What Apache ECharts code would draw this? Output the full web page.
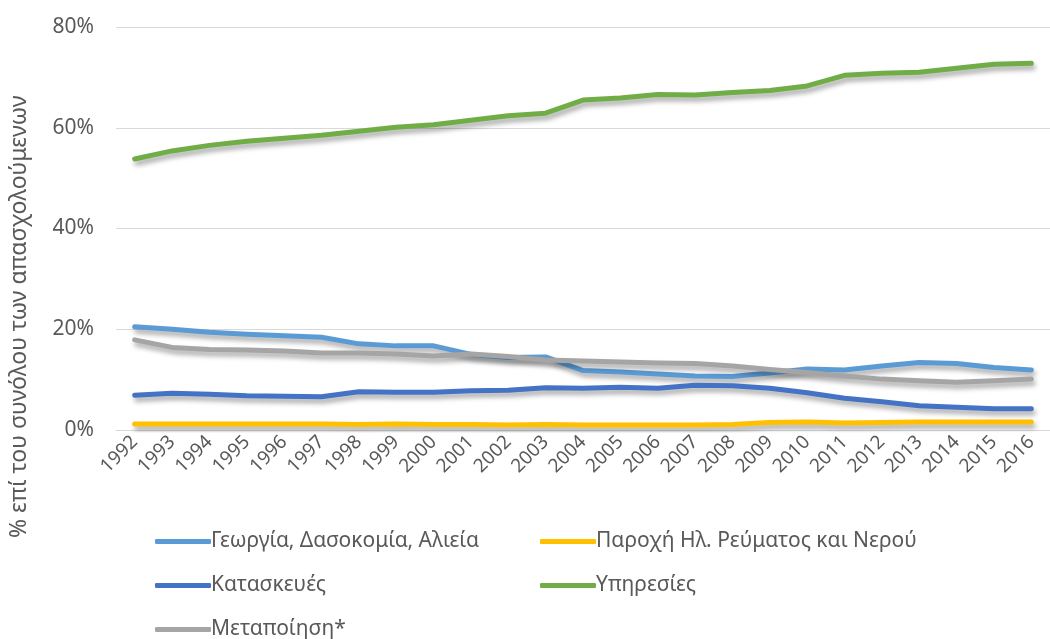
<!DOCTYPE html>
<html>
<head>
<meta charset="utf-8">
<script src="https://cdn.jsdelivr.net/npm/echarts@6/dist/echarts.min.js"></script>
<style>
    html, body { margin: 0; padding: 0; background: #fff; }
    #chart { width: 1050px; height: 639px; }
</style>
</head>
<body>
<div id="chart"></div>
<script>
const years = ['1992', '1993', '1994', '1995', '1996', '1997', '1998', '1999', '2000', '2001', '2002', '2003', '2004',
    '2005', '2006', '2007', '2008', '2009', '2010', '2011', '2012', '2013', '2014', '2015', '2016']

// % επί του συνόλου των απασχολούμενων
const agriculture = [20.5, 20.0, 19.4, 19.0, 18.7, 18.4, 17.1, 16.7, 16.7, 15.0, 14.4, 14.5, 11.8,
    11.5, 11.1, 10.7, 10.6, 11.3, 12.1, 11.9, 12.7, 13.4, 13.2, 12.4, 11.9]
const utilities = [1.2, 1.2, 1.2, 1.2, 1.2, 1.2, 1.1, 1.2, 1.1, 1.1, 1.0, 1.1, 1.0,
    1.0, 1.0, 1.0, 1.1, 1.5, 1.6, 1.4, 1.5, 1.6, 1.6, 1.6, 1.6]
const construction = [6.9, 7.3, 7.1, 6.8, 6.7, 6.6, 7.6, 7.5, 7.5, 7.8, 7.9, 8.4, 8.3,
    8.5, 8.3, 8.9, 8.8, 8.3, 7.4, 6.3, 5.6, 4.8, 4.5, 4.2, 4.2]
const services = [53.8, 55.4, 56.5, 57.3, 57.9, 58.5, 59.3, 60.1, 60.6, 61.5, 62.4, 62.9, 65.5,
    65.9, 66.6, 66.5, 67.0, 67.4, 68.3, 70.4, 70.8, 71.0, 71.8, 72.6, 72.8]
const manufacturing = [17.9, 16.4, 16.0, 15.9, 15.7, 15.3, 15.3, 15.1, 14.7, 15.1, 14.6, 13.9, 13.7,
    13.5, 13.3, 13.2, 12.7, 12.0, 11.4, 10.7, 10.1, 9.8, 9.5, 9.8, 10.1]

const yTicks = [0, 20, 40, 60, 80]

const names = ['Γεωργία, Δασοκομία, Αλιεία', 'Παροχή Ηλ. Ρεύματος και Νερού', 'Κατασκευές', 'Υπηρεσίες', 'Μεταποίηση*']
const values = [agriculture, utilities, construction, services, manufacturing]
const colors = ['#5B9BD5', '#FFC000', '#4472C4', '#70AD47', '#A5A5A5']
// legend slots, two columns like the excel legend
const legendPos = [[155, 543], [540, 543], [155, 587], [540, 587], [155, 631]]

const font = '"Noto Sans", "Open Sans", sans-serif'
const textColor = '#595959'

const seriesObjs = names.map((name, i) => ({
    name: name,
    type: 'line',
    data: values[i],
    symbol: 'none',
    lineStyle: {
        color: colors[i],
        width: 5,
        cap: 'round',
        join: 'round',
        shadowColor: 'rgba(0, 0, 0, 0.35)',
        shadowBlur: 5,
        shadowOffsetX: 2,
        shadowOffsetY: 4
    },
    itemStyle: { color: colors[i] }
}))

const legends = names.map((name, i) => ({
    data: [name],
    left: legendPos[i][0],
    top: legendPos[i][1] - 12,
    padding: 0,
    itemWidth: 56,
    itemHeight: 5,
    itemGap: 0,
    icon: 'roundRect',
    textStyle: { color: textColor, fontSize: 21, fontFamily: font, padding: [0, 0, 0, -5] }
}))

const option = {
    animation: false,
    textStyle: { fontFamily: font },
    grid: {
        left: 116,
        top: 27,
        width: 946,
        height: 403
    },
    legend: legends,
    graphic: [{
        type: 'text',
        style: {
            text: '% επί του συνόλου των απασχολούμενων',
            fill: textColor,
            font: '23px ' + font
        },
        rotation: Math.PI / 2,
        x: 8,
        y: 538
    }],
    xAxis: {
        type: 'category',
        data: years,
        boundaryGap: true,
        axisLine: { lineStyle: { color: '#D9D9D9', width: 1 } },
        axisTick: { show: false },
        axisLabel: {
            color: textColor,
            fontSize: 19,
            rotate: 45,
            interval: 0,
            margin: 9,
            fontFamily: font
        }
    },
    yAxis: {
        type: 'value',
        min: yTicks[0],
        max: yTicks[yTicks.length - 1],
        interval: 20,
        axisLine: { show: false },
        axisTick: { show: false },
        splitLine: { lineStyle: { color: '#D9D9D9', width: 1 } },
        axisLabel: {
            color: textColor,
            fontSize: 21,
            margin: 22,
            fontFamily: font,
            formatter: v => v + '%'
        }
    },
    series: seriesObjs
}

const chart = echarts.init(document.getElementById('chart'))
chart.setOption(option)
</script>
</body>
</html>
